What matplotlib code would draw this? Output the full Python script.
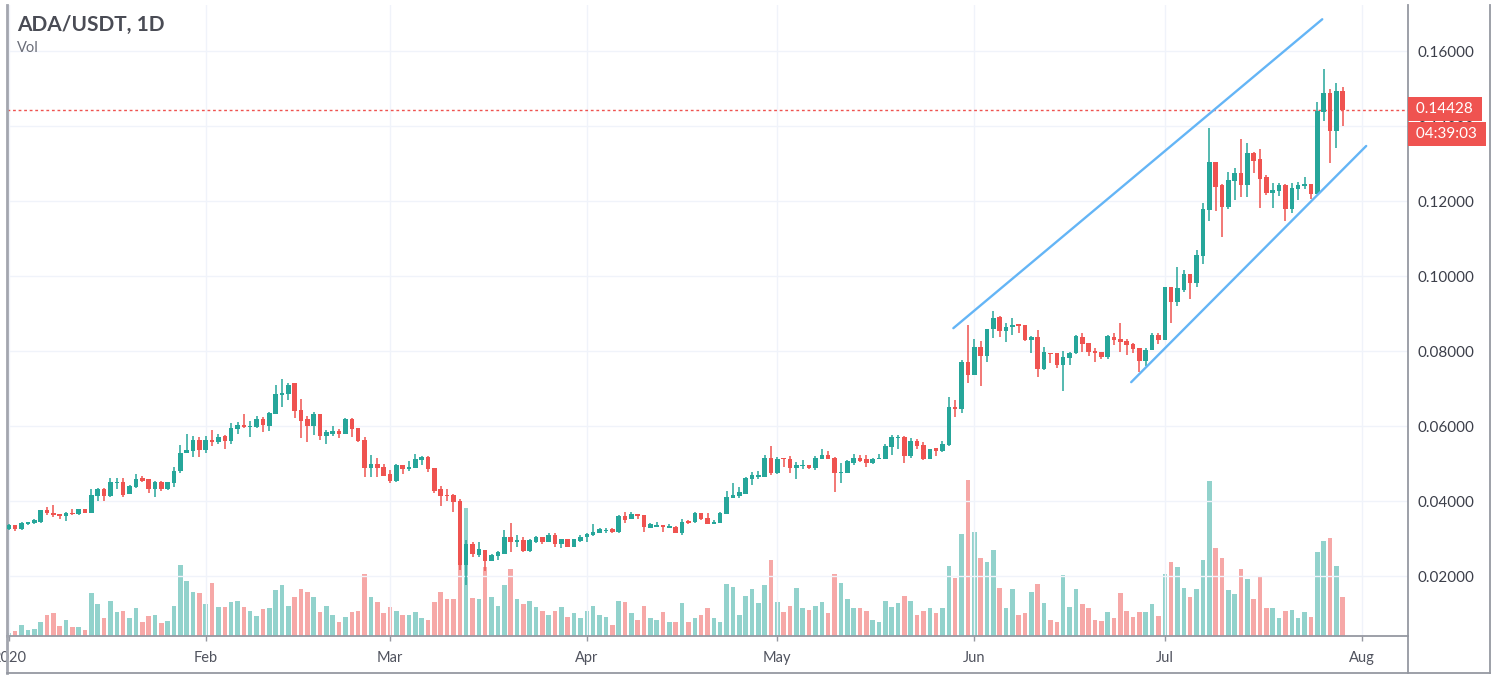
import matplotlib
matplotlib.use('Agg')
import matplotlib.pyplot as plt
import matplotlib.dates as mdates
import matplotlib.transforms as mtransforms
from matplotlib.lines import Line2D
import numpy as np
import pandas as pd

plt.rcParams['font.family'] = ['Lato', 'DejaVu Sans']

# --- data (ADA/USDT daily, from 2020-01-01) ---
start_date = '2020-01-01'

opens = [
    0.0326, 0.0335, 0.0326, 0.0340, 0.0342, 0.0345, 0.0376, 0.0369, 0.0365, 0.0360,
    0.0369, 0.0365, 0.0379, 0.0367, 0.0414, 0.0432, 0.0413, 0.0447, 0.0450, 0.0418,
    0.0438, 0.0462, 0.0459, 0.0431, 0.0451, 0.0431, 0.0449, 0.0479, 0.0529, 0.0534,
    0.0563, 0.0536, 0.0563, 0.0557, 0.0573, 0.0561, 0.0591, 0.0604, 0.0598, 0.0598,
    0.0620, 0.0601, 0.0632, 0.0684, 0.0685, 0.0714, 0.0644, 0.0618, 0.0600, 0.0632,
    0.0574, 0.0580, 0.0588, 0.0580, 0.0619, 0.0594, 0.0563, 0.0489, 0.0500, 0.0491,
    0.0471, 0.0454, 0.0495, 0.0486, 0.0489, 0.0509, 0.0518, 0.0489, 0.0431, 0.0417,
    0.0416, 0.0400, 0.0229, 0.0285, 0.0256, 0.0269, 0.0241, 0.0254, 0.0259, 0.0305,
    0.0292, 0.0296, 0.0267, 0.0292, 0.0305, 0.0292, 0.0309, 0.0285, 0.0300, 0.0278,
    0.0294, 0.0303, 0.0309, 0.0316, 0.0320, 0.0325, 0.0318, 0.0360, 0.0353, 0.0365,
    0.0363, 0.0329, 0.0332, 0.0335, 0.0327, 0.0332, 0.0316, 0.0348, 0.0343, 0.0367,
    0.0354, 0.0338, 0.0342, 0.0366, 0.0407, 0.0413, 0.0420, 0.0459, 0.0463, 0.0465,
    0.0516, 0.0474, 0.0514, 0.0512, 0.0489, 0.0493, 0.0496, 0.0487, 0.0511, 0.0523,
    0.0516, 0.0476, 0.0476, 0.0502, 0.0516, 0.0512, 0.0502, 0.0511, 0.0511, 0.0545,
    0.0569, 0.0572, 0.0520, 0.0560, 0.0549, 0.0512, 0.0541, 0.0534, 0.0550, 0.0651,
    0.0645, 0.0771, 0.0736, 0.0812, 0.0788, 0.0858, 0.0892, 0.0853, 0.0863, 0.0871,
    0.0869, 0.0829, 0.0838, 0.0751, 0.0796, 0.0794, 0.0764, 0.0782, 0.0794, 0.0838,
    0.0822, 0.0801, 0.0798, 0.0783, 0.0838, 0.0831, 0.0828, 0.0820, 0.0809, 0.0774,
    0.0803, 0.0843, 0.0829, 0.0970, 0.0932, 0.0963, 0.1005, 0.0982, 0.1054, 0.1176,
    0.1305, 0.1243, 0.1185, 0.1254, 0.1274, 0.1243, 0.1327, 0.1311, 0.1265, 0.1222,
    0.1228, 0.1243, 0.1179, 0.1232, 0.1241, 0.1245, 0.1220, 0.1438, 0.1487, 0.1387,
    0.1493,
]

highs = [
    0.0339, 0.0335, 0.0345, 0.0345, 0.0352, 0.0377, 0.0384, 0.0389, 0.0365, 0.0372,
    0.0378, 0.0380, 0.0380, 0.0432, 0.0435, 0.0435, 0.0462, 0.0462, 0.0462, 0.0442,
    0.0471, 0.0468, 0.0460, 0.0453, 0.0454, 0.0452, 0.0491, 0.0549, 0.0580, 0.0573,
    0.0572, 0.0573, 0.0589, 0.0580, 0.0576, 0.0607, 0.0610, 0.0632, 0.0613, 0.0627,
    0.0623, 0.0637, 0.0709, 0.0725, 0.0716, 0.0716, 0.0671, 0.0627, 0.0637, 0.0632,
    0.0589, 0.0600, 0.0591, 0.0622, 0.0622, 0.0596, 0.0572, 0.0523, 0.0516, 0.0500,
    0.0484, 0.0499, 0.0495, 0.0508, 0.0525, 0.0520, 0.0520, 0.0489, 0.0440, 0.0431,
    0.0420, 0.0405, 0.0296, 0.0292, 0.0291, 0.0269, 0.0259, 0.0267, 0.0323, 0.0342,
    0.0309, 0.0303, 0.0300, 0.0307, 0.0305, 0.0314, 0.0314, 0.0300, 0.0300, 0.0300,
    0.0309, 0.0314, 0.0338, 0.0327, 0.0329, 0.0327, 0.0364, 0.0370, 0.0370, 0.0365,
    0.0363, 0.0342, 0.0345, 0.0335, 0.0338, 0.0333, 0.0352, 0.0350, 0.0370, 0.0369,
    0.0367, 0.0349, 0.0372, 0.0427, 0.0447, 0.0438, 0.0463, 0.0478, 0.0481, 0.0523,
    0.0548, 0.0518, 0.0514, 0.0520, 0.0505, 0.0509, 0.0496, 0.0520, 0.0539, 0.0533,
    0.0518, 0.0502, 0.0509, 0.0525, 0.0523, 0.0523, 0.0516, 0.0525, 0.0552, 0.0576,
    0.0576, 0.0573, 0.0567, 0.0565, 0.0558, 0.0540, 0.0541, 0.0560, 0.0678, 0.0669,
    0.0776, 0.0869, 0.0832, 0.0828, 0.0860, 0.0907, 0.0893, 0.0874, 0.0889, 0.0871,
    0.0869, 0.0840, 0.0856, 0.0810, 0.0796, 0.0794, 0.0801, 0.0798, 0.0844, 0.0847,
    0.0822, 0.0807, 0.0798, 0.0844, 0.0849, 0.0876, 0.0831, 0.0822, 0.0809, 0.0809,
    0.0849, 0.0849, 0.0972, 0.0970, 0.1025, 0.1016, 0.1005, 0.1069, 0.1196, 0.1394,
    0.1305, 0.1245, 0.1278, 0.1289, 0.1365, 0.1356, 0.1332, 0.1338, 0.1269, 0.1249,
    0.1249, 0.1245, 0.1249, 0.1250, 0.1263, 0.1245, 0.1465, 0.1551, 0.1500, 0.1514,
    0.1505,
]

lows = [
    0.0324, 0.0319, 0.0323, 0.0336, 0.0340, 0.0342, 0.0364, 0.0357, 0.0353, 0.0346,
    0.0364, 0.0364, 0.0367, 0.0367, 0.0399, 0.0401, 0.0411, 0.0432, 0.0412, 0.0418,
    0.0436, 0.0452, 0.0422, 0.0412, 0.0428, 0.0429, 0.0438, 0.0475, 0.0527, 0.0518,
    0.0518, 0.0529, 0.0547, 0.0552, 0.0540, 0.0552, 0.0578, 0.0594, 0.0572, 0.0596,
    0.0585, 0.0588, 0.0632, 0.0650, 0.0669, 0.0622, 0.0567, 0.0558, 0.0576, 0.0563,
    0.0551, 0.0574, 0.0567, 0.0580, 0.0572, 0.0557, 0.0465, 0.0463, 0.0465, 0.0467,
    0.0449, 0.0452, 0.0472, 0.0480, 0.0489, 0.0496, 0.0478, 0.0422, 0.0387, 0.0401,
    0.0371, 0.0216, 0.0176, 0.0252, 0.0252, 0.0214, 0.0240, 0.0243, 0.0259, 0.0265,
    0.0278, 0.0265, 0.0265, 0.0287, 0.0285, 0.0292, 0.0278, 0.0276, 0.0278, 0.0278,
    0.0292, 0.0292, 0.0307, 0.0316, 0.0316, 0.0316, 0.0316, 0.0342, 0.0351, 0.0351,
    0.0318, 0.0327, 0.0330, 0.0318, 0.0327, 0.0316, 0.0309, 0.0340, 0.0342, 0.0349,
    0.0338, 0.0338, 0.0342, 0.0366, 0.0407, 0.0409, 0.0419, 0.0443, 0.0460, 0.0465,
    0.0469, 0.0472, 0.0492, 0.0476, 0.0459, 0.0485, 0.0485, 0.0483, 0.0511, 0.0513,
    0.0425, 0.0449, 0.0474, 0.0497, 0.0503, 0.0492, 0.0500, 0.0511, 0.0511, 0.0524,
    0.0540, 0.0502, 0.0514, 0.0539, 0.0509, 0.0511, 0.0520, 0.0532, 0.0548, 0.0625,
    0.0636, 0.0714, 0.0736, 0.0707, 0.0772, 0.0836, 0.0838, 0.0825, 0.0843, 0.0847,
    0.0828, 0.0796, 0.0732, 0.0749, 0.0767, 0.0754, 0.0693, 0.0764, 0.0791, 0.0798,
    0.0787, 0.0772, 0.0780, 0.0780, 0.0816, 0.0798, 0.0789, 0.0796, 0.0745, 0.0760,
    0.0803, 0.0820, 0.0829, 0.0874, 0.0920, 0.0958, 0.0940, 0.0972, 0.1032, 0.1148,
    0.1174, 0.1105, 0.1180, 0.1203, 0.1210, 0.1210, 0.1274, 0.1182, 0.1216, 0.1182,
    0.1213, 0.1148, 0.1169, 0.1203, 0.1232, 0.1205, 0.1220, 0.1414, 0.1302, 0.1342,
    0.1401,
]

closes = [
    0.0337, 0.0326, 0.0342, 0.0345, 0.0349, 0.0375, 0.0369, 0.0362, 0.0360, 0.0369,
    0.0365, 0.0379, 0.0367, 0.0416, 0.0432, 0.0414, 0.0450, 0.0450, 0.0417, 0.0441,
    0.0460, 0.0454, 0.0431, 0.0451, 0.0431, 0.0450, 0.0481, 0.0528, 0.0536, 0.0563,
    0.0536, 0.0563, 0.0557, 0.0570, 0.0561, 0.0594, 0.0604, 0.0598, 0.0600, 0.0620,
    0.0602, 0.0634, 0.0685, 0.0689, 0.0709, 0.0641, 0.0614, 0.0600, 0.0632, 0.0574,
    0.0585, 0.0588, 0.0580, 0.0619, 0.0591, 0.0560, 0.0489, 0.0500, 0.0489, 0.0468,
    0.0454, 0.0496, 0.0486, 0.0492, 0.0512, 0.0518, 0.0485, 0.0428, 0.0414, 0.0414,
    0.0398, 0.0229, 0.0285, 0.0259, 0.0271, 0.0240, 0.0257, 0.0263, 0.0305, 0.0292,
    0.0296, 0.0267, 0.0296, 0.0305, 0.0292, 0.0309, 0.0285, 0.0298, 0.0278, 0.0298,
    0.0305, 0.0312, 0.0318, 0.0326, 0.0324, 0.0318, 0.0361, 0.0349, 0.0365, 0.0361,
    0.0330, 0.0338, 0.0335, 0.0330, 0.0333, 0.0316, 0.0345, 0.0342, 0.0367, 0.0352,
    0.0338, 0.0345, 0.0369, 0.0410, 0.0416, 0.0424, 0.0462, 0.0469, 0.0469, 0.0516,
    0.0474, 0.0512, 0.0511, 0.0489, 0.0496, 0.0497, 0.0487, 0.0516, 0.0523, 0.0513,
    0.0476, 0.0478, 0.0506, 0.0515, 0.0508, 0.0502, 0.0511, 0.0516, 0.0547, 0.0572,
    0.0572, 0.0520, 0.0560, 0.0548, 0.0512, 0.0538, 0.0534, 0.0552, 0.0652, 0.0645,
    0.0771, 0.0736, 0.0812, 0.0788, 0.0859, 0.0889, 0.0854, 0.0865, 0.0869, 0.0867,
    0.0829, 0.0838, 0.0751, 0.0798, 0.0791, 0.0764, 0.0783, 0.0794, 0.0840, 0.0820,
    0.0798, 0.0796, 0.0783, 0.0840, 0.0829, 0.0825, 0.0816, 0.0805, 0.0773, 0.0804,
    0.0843, 0.0829, 0.0970, 0.0932, 0.0967, 0.1005, 0.0982, 0.1056, 0.1179, 0.1305,
    0.1238, 0.1185, 0.1256, 0.1274, 0.1243, 0.1327, 0.1308, 0.1260, 0.1222, 0.1229,
    0.1243, 0.1179, 0.1236, 0.1243, 0.1245, 0.1220, 0.1441, 0.1487, 0.1387, 0.1493,
    0.14428,
]

# daily volume, millions of ADA
volumes = [
    33, 47, 110, 57, 70, 137, 213, 227, 100, 163,
    87, 87, 57, 427, 317, 177, 353, 237, 247, 177,
    277, 137, 200, 213, 127, 147, 303, 707, 547, 443,
    427, 317, 527, 290, 290, 340, 353, 287, 250, 200,
    267, 280, 457, 507, 303, 390, 467, 443, 390, 237,
    303, 213, 137, 187, 237, 250, 620, 390, 340, 227,
    290, 250, 213, 213, 237, 177, 163, 340, 443, 367,
    367, 1157, 1283, 380, 367, 690, 390, 303, 507, 673,
    367, 317, 353, 290, 250, 213, 250, 290, 187, 227,
    177, 250, 303, 213, 187, 107, 353, 340, 227, 163,
    303, 177, 163, 237, 137, 137, 327, 137, 177, 213,
    277, 177, 137, 517, 493, 213, 403, 467, 327, 507,
    760, 340, 237, 303, 480, 277, 263, 303, 340, 227,
    617, 530, 367, 277, 277, 250, 163, 137, 353, 290,
    327, 403, 353, 213, 250, 277, 227, 277, 697, 583,
    1017, 1563, 1040, 783, 737, 863, 480, 277, 467, 213,
    227, 443, 517, 327, 163, 137, 607, 290, 467, 317,
    277, 163, 150, 237, 177, 427, 250, 187, 237, 237,
    317, 200, 617, 737, 687, 480, 390, 467, 760, 1550,
    877, 783, 457, 417, 673, 567, 367, 597, 277, 277,
    177, 250, 263, 177, 237, 187, 837, 953, 977, 697,
    390,
]

y_ticks = [0.02, 0.04, 0.06, 0.08, 0.10, 0.12, 0.14, 0.16]
month_ticks = ['2020-01-01', '2020-02-01', '2020-03-01', '2020-04-01',
               '2020-05-01', '2020-06-01', '2020-07-01', '2020-08-01']
month_labels = ['2020', 'Feb', 'Mar', 'Apr', 'May', 'Jun', 'Jul', 'Aug']

# drawn trend channel (start / end points)
upper_line_dates = ['2020-05-28 17:00', '2020-07-25 19:00']
upper_line_prices = [0.0861, 0.1685]
lower_line_dates = ['2020-06-25 17:00', '2020-08-01 17:00']
lower_line_prices = [0.0717, 0.1347]

countdown = '04:39:03'

# --- styling ---
UP = '#26a69a'
DOWN = '#ef5350'
GRID = '#f0f3fa'
AXIS = '#9598a1'
TEXT = '#4a4c55'

dates = pd.date_range(start_date, periods=len(opens), freq='D')
o = np.array(opens)
h = np.array(highs)
l = np.array(lows)
c = np.array(closes)
v = np.array(volumes)
is_up = c >= o
colors = np.where(is_up, UP, DOWN)

W, H = 1500, 678
fig = plt.figure(figsize=(W / 100, H / 100), dpi=100)
fig.patch.set_facecolor('white')

# plot area in pixels: x 7..1408, y 5..636
ax = fig.add_axes([7 / W, (H - 636) / H, (1408 - 7) / W, (636 - 5) / H])
axv = ax.twinx()

# volume bars behind price
axv.bar(dates, v, width=0.72, color=colors, alpha=0.5, linewidth=0, zorder=1)
axv.set_ylim(0, 6310)
axv.set_yticks([])
for s in axv.spines.values():
    s.set_visible(False)
ax.set_zorder(axv.get_zorder() + 1)
ax.patch.set_visible(False)

# candles
ax.vlines(dates, l, h, colors=colors, linewidth=1.1, zorder=3)
body_bottom = np.minimum(o, c)
body_height = np.maximum(np.abs(c - o), 0.00025)
ax.bar(dates, body_height, bottom=body_bottom, width=0.72, color=colors,
       linewidth=0, zorder=4)

# channel lines
ax.plot(pd.to_datetime(upper_line_dates), upper_line_prices, color='#64b5f6',
        linewidth=1.7, zorder=5, solid_capstyle='round')
ax.plot(pd.to_datetime(lower_line_dates), lower_line_prices, color='#64b5f6',
        linewidth=1.7, zorder=5, solid_capstyle='round')

# last price line
last = closes[-1]
ax.axhline(last, color=DOWN, linestyle=(0, (2, 2)), linewidth=1.0, zorder=2)

# axes limits
ax.set_xlim(pd.Timestamp('2019-12-31 17:00'), pd.Timestamp('2020-08-08 07:00'))
ax.set_ylim(0.0040, 0.1723)

# grid
ax.set_yticks(y_ticks)
ax.set_yticklabels([f'{t:.5f}' for t in y_ticks])
ax.set_xticks(pd.to_datetime(month_ticks))
ax.set_xticklabels(month_labels)
ax.grid(True, color=GRID, linewidth=1.0, zorder=0)
ax.set_axisbelow(True)

ax.yaxis.tick_right()
ax.tick_params(axis='y', length=0, pad=7, labelsize=11, labelcolor='#3c3f4a')
ax.tick_params(axis='x', length=3.5, width=1, color=AXIS, pad=7, labelsize=10.5,
               labelcolor='#50535e')

ax.spines['top'].set_visible(False)
ax.spines['left'].set_color('#a3a6af')
ax.spines['left'].set_linewidth(2)
ax.spines['bottom'].set_color(AXIS)
ax.spines['bottom'].set_linewidth(1.3)
ax.spines['right'].set_color(AXIS)
ax.spines['right'].set_linewidth(1.3)

# price / countdown tags on the right scale
blend = mtransforms.blended_transform_factory(ax.transAxes, ax.transData)
tag_style = dict(boxstyle='square,pad=0.32', fc=DOWN, ec='none')
ax.annotate(f' {last:.5f} ', xy=(1.0, last), xycoords=blend, xytext=(3.2, 1),
            textcoords='offset points', ha='left', va='center', fontsize=11,
            color='white', annotation_clip=False, zorder=10, bbox=tag_style)
ax.annotate(f' {countdown} ', xy=(1.0, last), xycoords=blend, xytext=(3.2, -17.5),
            textcoords='offset points', ha='left', va='center', fontsize=11,
            color='white', annotation_clip=False, zorder=10, bbox=tag_style)

# header texts
fig.text(17 / W, 1 - 25 / H, 'ADA/USDT, 1D', fontsize=15, fontweight='bold',
         color=TEXT, va='center', ha='left')
fig.text(17 / W, 1 - 48 / H, 'Vol', fontsize=10.5, color='#6a6d78',
         va='center', ha='left')

# outer frame of the chart widget
def px_line(x0, y0, x1, y1, **kw):
    fig.add_artist(Line2D([x0 / W, x1 / W], [1 - y0 / H, 1 - y1 / H],
                          transform=fig.transFigure, **kw))

px_line(7, 636, 7, 673, color='#a3a6af', linewidth=2)
px_line(7, 673, 1490, 673, color=AXIS, linewidth=1.3)
px_line(1408, 636, 1408, 673, color=AXIS, linewidth=1.3)
px_line(1490, 5, 1490, 673, color=AXIS, linewidth=1.3)

fig.savefig('out.png', dpi=100)
